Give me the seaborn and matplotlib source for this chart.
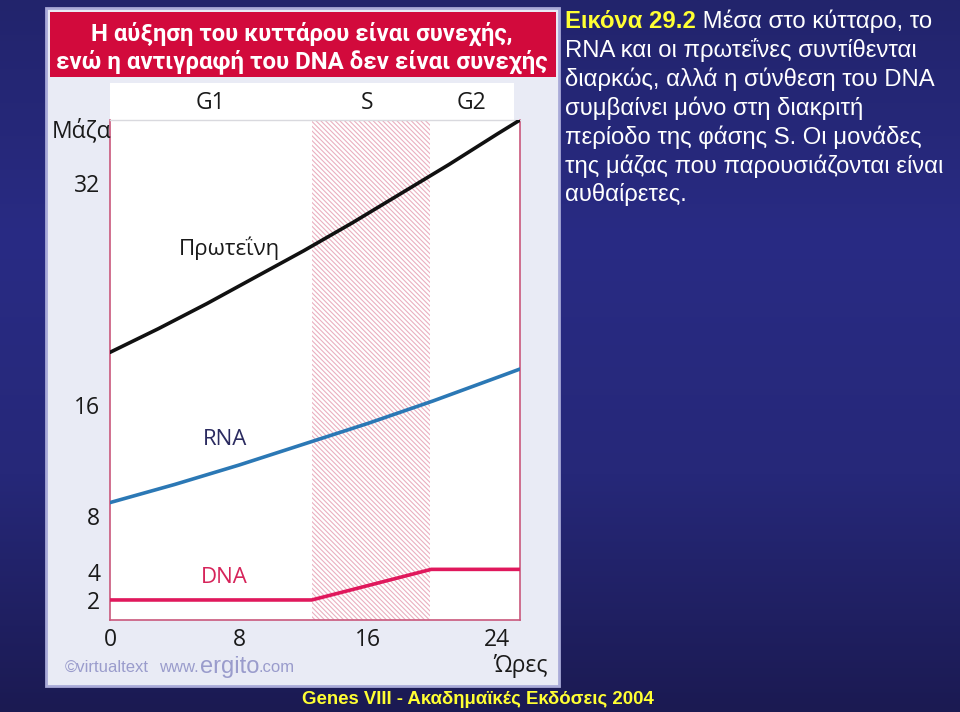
import numpy as np
import pandas as pd
import matplotlib
matplotlib.use("Agg")
import matplotlib.pyplot as plt
import seaborn as sns
from matplotlib.patches import Rectangle
import matplotlib.transforms as mtransforms
from matplotlib.colors import LinearSegmentedColormap

# ---------------- data ----------------
protein_hours = [0, 3, 6, 9, 12, 15, 18, 21, 24, 25.4]
protein_mass = [19.8, 21.5, 23.3, 25.2, 27.1, 29.1, 31.2, 33.3, 35.5, 36.5]
rna_hours = [0, 4, 8, 12, 16, 20, 24, 25.4]
rna_mass = [9.0, 10.3, 11.7, 13.2, 14.7, 16.3, 18.0, 18.6]
dna_hours = [0, 12.5, 19.9, 25.4]
dna_mass = [2.0, 2.0, 4.2, 4.2]
s_phase = [12.5, 19.8]
phase_labels = ["G1", "S", "G2"]
phase_centers = [6.2, 15.9, 22.4]
x_ticks = [0, 8, 16, 24]
y_ticks = [2, 4, 8, 16, 32]
series_labels = ["Πρωτεΐνη", "RNA", "DNA"]

title_lines = ["Η αύξηση του κυττάρου είναι συνεχής,",
               "ενώ η αντιγραφή του DNA δεν είναι συνεχής"]
caption_head = "Εικόνα 29.2"
caption_lines = [" Μέσα στο κύτταρο, το",
                 "RNA και οι πρωτεΐνες συντίθενται",
                 "διαρκώς, αλλά η σύνθεση του DNA",
                 "συμβαίνει μόνο στη διακριτή",
                 "περίοδο της φάσης S. Οι μονάδες",
                 "της μάζας που παρουσιάζονται είναι",
                 "αυθαίρετες."]
footer = "Genes VIII - Ακαδημαϊκές Εκδόσεις 2004"

df = pd.concat([
    pd.DataFrame({"hours": protein_hours, "mass": protein_mass, "series": series_labels[0]}),
    pd.DataFrame({"hours": rna_hours, "mass": rna_mass, "series": series_labels[1]}),
    pd.DataFrame({"hours": dna_hours, "mass": dna_mass, "series": series_labels[2]}),
])

# ---------------- style ----------------
sns.set_theme(style="white")
plt.rcParams["font.family"] = ["Open Sans", "DejaVu Sans"]
plt.rcParams["hatch.linewidth"] = 0.8

W, H = 960, 712
fig = plt.figure(figsize=(W / 100, H / 100), dpi=100)

def fx(px):
    return px / W

def fy(py):
    return 1 - py / H

# background gradient
bg = fig.add_axes([0, 0, 1, 1], zorder=-10)
bg.set_axis_off()
cmap = LinearSegmentedColormap.from_list("bg", ["#22246c", "#292b84", "#262879", "#1b1a52"])
grad = np.linspace(0, 1, 256).reshape(-1, 1)
bg.imshow(grad, aspect="auto", cmap=cmap, extent=[0, 1, 0, 1], origin="upper")
bg.set_xlim(0, 1)
bg.set_ylim(0, 1)

# panel
fig.patches.append(Rectangle((fx(46), fy(686)), fx(513), 678 / H, transform=fig.transFigure,
                             facecolor="#e9ebf5", edgecolor="#a9aad8", lw=2.0, zorder=-5))
# red banner
fig.patches.append(Rectangle((fx(50), fy(77)), fx(506), 65 / H, transform=fig.transFigure,
                             facecolor="#d20a3c", edgecolor="none", zorder=-4))
# white header area
fig.patches.append(Rectangle((fx(110), fy(121)), fx(404), 38 / H, transform=fig.transFigure,
                             facecolor="white", edgecolor="none", zorder=-4))

renderer = fig.canvas.get_renderer()

def fit_text(x, y, s, target_w, ha="left", **kw):
    t = fig.text(x, y, s, ha=ha, **kw)
    w = t.get_window_extent(renderer).width
    t.set_fontsize(t.get_fontsize() * target_w / w)
    return t

# banner text
bfam = ["Roboto", "DejaVu Sans"]
fit_text(fx(302), fy(34), title_lines[0], 423, ha="center", va="center",
         color="white", fontweight="bold", fontsize=17, family=bfam)
fit_text(fx(302), fy(62), title_lines[1], 492, ha="center", va="center",
         color="white", fontweight="bold", fontsize=17, family=bfam)

# ---------------- main axes ----------------
ax = fig.add_axes([fx(110), fy(620), fx(410), 500 / H])
ax.set_facecolor("white")
ax.axvspan(s_phase[0], s_phase[1], facecolor="white", edgecolor="#eab0c0",
           hatch="\\" * 7, lw=0, zorder=0)

palette = {series_labels[0]: "#111111", series_labels[1]: "#2b78b5", series_labels[2]: "#e0185c"}
sns.lineplot(data=df, x="hours", y="mass", hue="series", palette=palette,
             linewidth=2.6, legend=False, ax=ax, zorder=3)

ax.set_xlim(0, 25.4)
ax.set_ylim(0.56, 36.5)
ax.set_xticks(x_ticks)
ax.set_xticklabels([str(v) for v in x_ticks])
ax.set_yticks(y_ticks)
ax.set_yticklabels([str(v) for v in y_ticks])
ax.tick_params(axis="both", length=0, labelsize=16.5, colors="#1a1a1a")
ax.tick_params(axis="y", pad=7)
ax.tick_params(axis="x", pad=6)
ax.set_xlabel("")
ax.set_ylabel("")
for side in ["left", "right", "bottom"]:
    ax.spines[side].set_color("#c9587c")
    ax.spines[side].set_linewidth(1.2)
ax.spines["top"].set_color("#d9d9de")
ax.spines["top"].set_linewidth(1.0)

# phase labels in header
trans = mtransforms.blended_transform_factory(ax.transData, fig.transFigure)
for lab, xc in zip(phase_labels, phase_centers):
    ax.text(xc, fy(103), lab, transform=trans, ha="center", va="center",
            fontsize=16.5, color="#1a1a1a", clip_on=False)

# series labels
ax.text(7.4, 27.3, series_labels[0], ha="center", va="center", fontsize=16, color="#1a1a1a")
ax.text(7.1, 13.5, series_labels[1], ha="center", va="center", fontsize=16, color="#2b2b60")
ax.text(7.1, 3.6, series_labels[2], ha="center", va="center", fontsize=16, color="#d6245a")

# axis titles
fig.text(fx(82), fy(131), "Μάζα", ha="center", va="center", fontsize=16.5, color="#1a1a1a")
fig.text(fx(520), fy(666), "Ώρες", ha="center", va="center", fontsize=16.5, color="#1a1a1a")

# watermark (pieces placed one after another)
wm = "#9a9ccc"
xpos = 65
for piece, fs, gap in [("©virtualtext", 12, 10), ("www.", 12, 1), ("ergito", 17, 0), (".com", 12, 0)]:
    t = fig.text(fx(xpos), fy(667), piece, ha="left", va="center", fontsize=fs, color=wm,
                 family=["Liberation Sans"])
    xpos += t.get_window_extent(renderer).width + gap

# ---------------- caption ----------------
cap_fs = 17.2
lh = 29
head = fig.text(fx(565), fy(21), caption_head, ha="left", va="center", fontsize=cap_fs,
                fontweight="bold", color="#ffff33", family=["Liberation Sans"])
hw = head.get_window_extent(renderer).width
fig.text(fx(565 + hw), fy(21), caption_lines[0], ha="left", va="center", fontsize=cap_fs,
         color="white", family=["Liberation Sans"])
for i, line in enumerate(caption_lines[1:], start=1):
    fig.text(fx(565), fy(21 + lh * i), line, ha="left", va="center", fontsize=cap_fs,
             color="white", family=["Liberation Sans"])

fit_text(fx(478), fy(700), footer, 353, ha="center", va="center", fontsize=13,
         fontweight="bold", color="#ffff33", family=["Liberation Sans"])

fig.savefig("out.png", dpi=100)
